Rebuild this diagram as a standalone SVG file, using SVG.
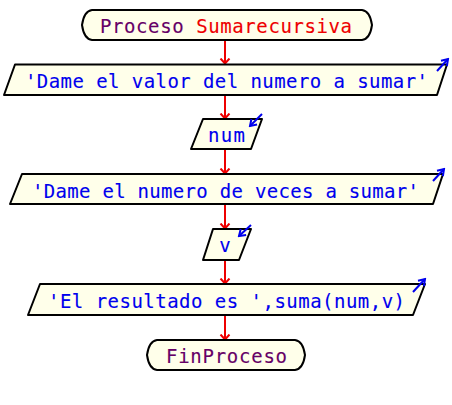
<svg xmlns="http://www.w3.org/2000/svg" width="452" height="405" viewBox="0 0 452 405">
<defs>
<marker id="ah" viewBox="-6 -6 8 12" markerWidth="8" markerHeight="12" refX="0" refY="0" orient="auto" markerUnits="userSpaceOnUse">
<path d="M-5,-4.5 L0,0 L-5,4.5" fill="none" stroke="#ee0000" stroke-width="2"/>
</marker>
<marker id="bh" viewBox="-7 -6 9 12" markerWidth="9" markerHeight="12" refX="0" refY="0" orient="auto" markerUnits="userSpaceOnUse">
<path d="M-6,-4 L0,0 L-6,4" fill="none" stroke="#0000ee" stroke-width="2"/>
</marker>
</defs>
<style>
.sh{fill:#ffffea;stroke:#000;stroke-width:2;stroke-linejoin:round}
.t{font-family:"DejaVu Sans Mono","Liberation Mono",monospace;font-size:19px;fill:#0000ee;stroke:#0000ee;stroke-width:0.12}
.p{fill:#660066;stroke:#660066}
.r{fill:#ee0000;stroke:#ee0000}
.c{fill:none;stroke:#ee0000;stroke-width:2;marker-end:url(#ah)}
.b{fill:none;stroke:#0000ee;stroke-width:2;marker-end:url(#bh)}
</style>
<rect width="452" height="405" fill="#fff"/>
<g id="connectors">
<line class="c" x1="225" y1="40" x2="225" y2="63.5"/>
<line class="c" x1="225" y1="95" x2="225" y2="118.5"/>
<line class="c" x1="225" y1="149" x2="225" y2="173.5"/>
<line class="c" x1="225" y1="204" x2="225" y2="228.5"/>
<line class="c" x1="225" y1="260" x2="225" y2="283.5"/>
<line class="c" x1="225" y1="315" x2="225" y2="339.5"/>
</g>
<g id="inicio">
<path class="sh" d="M92,10 L362,10 Q370,11 372,25 Q370,39 362,40 L92,40 Q84,39 82,25 Q84,11 92,10 Z"/>
<text class="t" x="100" y="33" textLength="252" lengthAdjust="spacing"><tspan class="p">Proceso </tspan><tspan class="r">Sumarecursiva</tspan></text>
</g>
<g id="escribir1">
<path class="sh" d="M15,64.5 L447,64.5 L437,95 L4,95 Z"/>
<text class="t" x="25" y="88" textLength="403" lengthAdjust="spacing">'Dame el valor del numero a sumar'</text>
<line class="b" x1="437" y1="71" x2="448" y2="59"/>
</g>
<g id="leer1">
<path class="sh" d="M203,119 L262,119 L251,149 L191,149 Z"/>
<text class="t" x="208" y="142" textLength="37" lengthAdjust="spacing">num</text>
<line class="b" x1="262" y1="114" x2="250" y2="126"/>
</g>
<g id="escribir2">
<path class="sh" d="M22,174 L443,174 L433,204 L10,204 Z"/>
<text class="t" x="32" y="198" textLength="387" lengthAdjust="spacing">'Dame el numero de veces a sumar'</text>
<line class="b" x1="433" y1="181" x2="444" y2="169"/>
</g>
<g id="leer2">
<path class="sh" d="M213,229 L251,229 L239,260 L203,260 Z"/>
<text class="t" x="225" y="252" text-anchor="middle">v</text>
<line class="b" x1="251" y1="225" x2="239" y2="236"/>
</g>
<g id="escribir3">
<path class="sh" d="M40,284 L425,284 L413,315 L28,315 Z"/>
<text class="t" x="48" y="308" textLength="357" lengthAdjust="spacing">'El resultado es ',suma(num,v)</text>
<line class="b" x1="413" y1="292" x2="425" y2="279"/>
</g>
<g id="fin">
<path class="sh" d="M157,340 L295,340 Q303,341 305,355 Q303,369 295,370 L157,370 Q149,369 147,355 Q149,341 157,340 Z"/>
<text class="t p" x="166" y="363" textLength="121" lengthAdjust="spacing">FinProceso</text>
</g>
</svg>
